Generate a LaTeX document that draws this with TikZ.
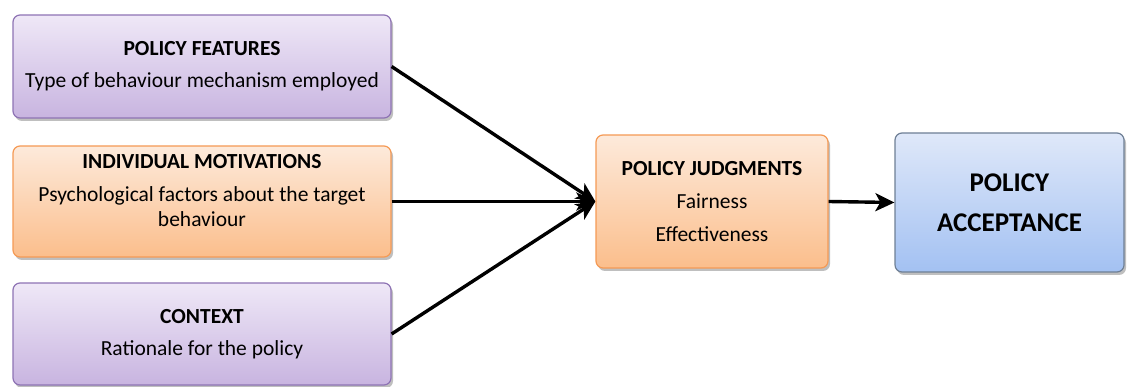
\documentclass[tikz,border=0pt]{standalone}
\usepackage{fontspec}
\setmainfont{Carlito}
\usetikzlibrary{arrows.meta,shadows}
\definecolor{purpTop}{HTML}{EFE8F7}
\definecolor{purpBot}{HTML}{C8B4E0}
\definecolor{purpLine}{HTML}{8E73B4}
\definecolor{orTop}{HTML}{FDEADB}
\definecolor{orBot}{HTML}{FBBE8C}
\definecolor{orLine}{HTML}{F59A55}
\definecolor{blTop}{HTML}{DFE8F9}
\definecolor{blBot}{HTML}{A3C1F2}
\definecolor{blLine}{HTML}{6E7F95}
\tikzset{
  box/.style={rounded corners=7pt, line width=1.2pt, align=center, inner sep=0pt,
    font=\fontsize{21.5}{25}\selectfont,
    drop shadow={shadow xshift=2pt, shadow yshift=-3pt, opacity=0.25, fill=black}},
  purpbox/.style={box, draw=purpLine, top color=purpTop, bottom color=purpBot},
  orbox/.style={box, draw=orLine, top color=orTop, bottom color=orBot},
  blbox/.style={box, draw=blLine, top color=blTop, bottom color=blBot},
  conn/.style={line width=3.4pt, -{Stealth[length=19pt,width=18pt,inset=5pt]}}
}
\begin{document}
\begin{tikzpicture}[x=1pt,y=-1pt]
\useasboundingbox (0,0) rectangle (1127,387);
\node[purpbox, minimum width=378pt, minimum height=103pt] (pf) at (202,66.5)
  {\textbf{POLICY FEATURES}\\[7pt]Type of behaviour mechanism employed};
\node[orbox, minimum width=378pt, minimum height=111pt] (im) at (202,201.5)
  {\textbf{INDIVIDUAL MOTIVATIONS}\\[8pt]Psychological factors about the target\\behaviour\\[-3pt]\mbox{}};
\node[purpbox, minimum width=378pt, minimum height=102pt] (ctx) at (202,334)
  {\textbf{CONTEXT}\\[7pt]Rationale for the policy};
\node[orbox, minimum width=232pt, minimum height=133pt] (pj) at (712,201.5)
  {\textbf{POLICY JUDGMENTS}\\[8pt]Fairness\\[8pt]Effectiveness};
\node[blbox, minimum width=229pt, minimum height=139pt, font=\fontsize{27}{31}\selectfont] (pa) at (1009.5,202.5)
  {\textbf{POLICY}\\[9pt]\textbf{ACCEPTANCE}};
\draw[conn] (pf.east) -- (pj.west);
\draw[conn] (im.east) -- (pj.west);
\draw[conn] (ctx.east) -- (pj.west);
\draw[conn] (pj.east) -- (pa.west);
\end{tikzpicture}
\end{document}
